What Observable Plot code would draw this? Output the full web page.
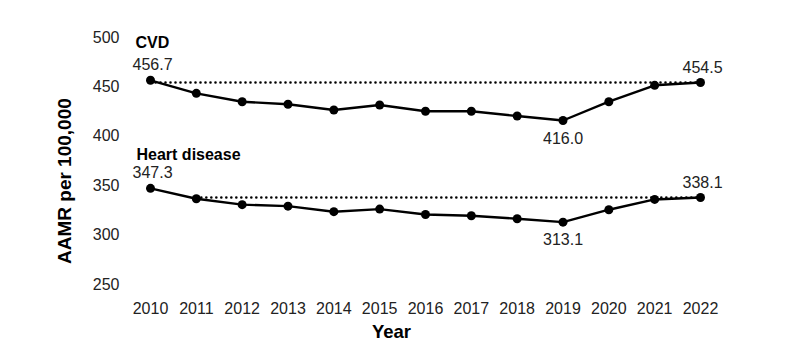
<!DOCTYPE html>
<html><head><meta charset="utf-8">
<script src="https://cdn.jsdelivr.net/npm/d3@7"></script>
<script src="https://cdn.jsdelivr.net/npm/@observablehq/plot@0.6"></script>
<style>html,body{margin:0;padding:0;background:#fff;overflow:hidden}</style>
</head><body><div id="chart"></div>
<script>
const years = [2010, 2011, 2012, 2013, 2014, 2015, 2016, 2017, 2018, 2019, 2020, 2021, 2022];
const cvd = [456.7, 443.5, 435.0, 432.4, 426.6, 431.7, 425.3, 425.3, 420.5, 416.0, 435.0, 451.6, 454.5];
const heart = [347.3, 336.8, 330.8, 329.3, 323.7, 326.3, 320.9, 319.6, 316.6, 313.1, 325.7, 336.1, 338.1];
const seriesNames = ["CVD", "Heart disease"];
const refStartYears = [2010, 2011];
const yTicks = [250, 300, 350, 400, 450, 500];

const seriesValues = [cvd, heart];
const rows = [];
seriesNames.forEach((name, s) => years.forEach((yr, i) => rows.push({series: name, year: yr, value: seriesValues[s][i]})));

const refs = seriesNames.map((name, s) => ({series: name, start: refStartYears[s], end: years[years.length - 1], value: seriesValues[s][seriesValues[s].length - 1]}));

const above = [], below = [];
seriesNames.forEach((name, s) => {
  const v = seriesValues[s];
  above.push({year: years[0], value: v[0]});
  above.push({year: years[years.length - 1], value: v[v.length - 1]});
  const mi = d3.minIndex(v);
  below.push({year: years[mi], value: v[mi]});
});
const firstPts = seriesNames.map((name, s) => ({name, year: years[0], value: seriesValues[s][0]}));

const font = "'Liberation Sans', Arial, Helvetica, sans-serif";
const chart = Plot.plot({
  width: 800,
  height: 363,
  marginLeft: 150,
  marginRight: 100,
  marginTop: 37,
  marginBottom: 79,
  style: {fontFamily: font, fontSize: "16px", color: "#222", background: "#fff"},
  x: {domain: [2010, 2022], label: null},
  y: {domain: [250, 500], label: null},
  marks: [
    Plot.axisX({ticks: years, tickFormat: d => String(d), tickSize: 0, tickPadding: 18, label: null, fontSize: 16}),
    Plot.axisY({ticks: yTicks, tickSize: 0, tickPadding: 31, label: null, fontSize: 16}),
    Plot.link(refs, {x1: "start", x2: "end", y1: "value", y2: "value", stroke: "#000", strokeWidth: 2.6, strokeLinecap: "round", strokeDasharray: "0 5"}),
    Plot.line(rows, {x: "year", y: "value", z: "series", stroke: "#000", strokeWidth: 2.4}),
    Plot.dot(rows, {x: "year", y: "value", r: 4.5, fill: "#000", stroke: "none"}),
    Plot.text(above, {x: "year", y: "value", text: d => d.value.toFixed(1), dy: -15, dx: 2, fill: "#222", fontSize: 16}),
    Plot.text(below, {x: "year", y: "value", text: d => d.value.toFixed(1), dy: 18, fill: "#222", fontSize: 16}),
    Plot.text(firstPts.slice(0, 1), {x: "year", y: "value", text: "name", textAnchor: "start", dx: -15, dy: -37, fontWeight: "bold", fill: "#000", fontSize: 16}),
    Plot.text(firstPts.slice(1), {x: "year", y: "value", text: "name", textAnchor: "start", dx: -14, dy: -33, fontWeight: "bold", fill: "#000", fontSize: 16}),
    Plot.text(["Year"], {frameAnchor: "bottom", dx: -34, dy: 53, fontWeight: "bold", fill: "#000", fontSize: 18.5}),
    Plot.text(["AAMR per 100,000"], {frameAnchor: "left", rotate: -90, dx: -86, dy: 103, fontWeight: "bold", fill: "#000", fontSize: 19})
  ]
});
document.getElementById("chart").appendChild(chart);
</script>
</body></html>
